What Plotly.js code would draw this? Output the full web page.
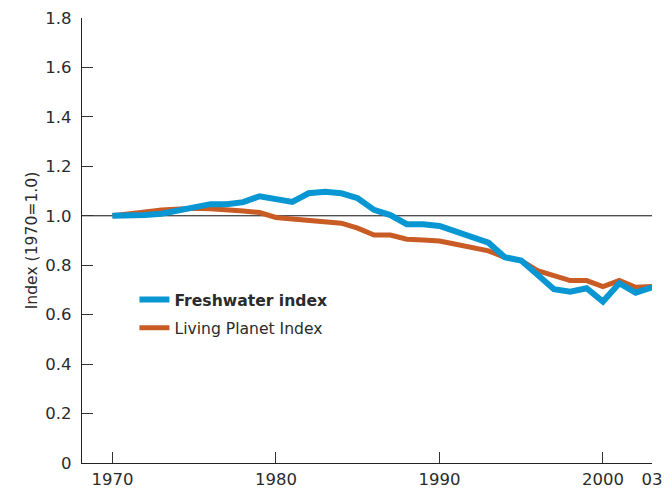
<!DOCTYPE html>
<html>
<head>
<meta charset="utf-8">
<script src="https://cdn.plot.ly/plotly-3.0.1.min.js"></script>
<style>html,body{margin:0;padding:0;background:#fff;}#chart{width:666px;height:488px;}</style>
</head>
<body>
<div id="chart"></div>
<script>
const years = [1970,1971,1972,1973,1974,1975,1976,1977,1978,1979,1980,1981,1982,1983,1984,1985,1986,1987,1988,1989,1990,1991,1992,1993,1994,1995,1996,1997,1998,1999,2000,2001,2002,2003];
const freshwater = [1.00,1.00,1.003,1.008,1.022,1.030,1.047,1.047,1.055,1.079,1.067,1.056,1.091,1.097,1.091,1.071,1.024,1.003,0.966,0.966,0.959,0.936,0.916,0.891,0.832,0.819,0.761,0.703,0.693,0.707,0.653,0.727,0.689,0.711];
const livingPlanet = [1.00,1.01,1.015,1.023,1.027,1.030,1.028,1.021,1.019,1.013,0.993,0.987,0.981,0.974,0.970,0.950,0.922,0.922,0.905,0.902,0.898,0.885,0.871,0.858,0.832,0.819,0.778,0.757,0.738,0.738,0.714,0.738,0.711,0.714];
const xTickVals = [1970,1980,1990,2000,2003];
const xTickText = ["1970","1980","1990","2000","03"];
const yTickVals = [0,0.2,0.4,0.6,0.8,1.0,1.2,1.4,1.6,1.8];
const yTickText = ["0","0.2","0.4","0.6","0.8","1.0","1.2","1.4","1.6","1.8"];

const traces = [
  {x: years, y: livingPlanet, type: 'scatter', mode: 'lines', name: 'Living Planet Index',
   legendgroup: 'lpi', legendrank: 2, line: {color: '#c95b25', width: 5}},
  {x: years, y: freshwater, type: 'scatter', mode: 'lines', name: '<b>Freshwater index</b>',
   legendgroup: 'fw', legendrank: 1, line: {color: '#0897d3', width: 6}}
];

const FONT = 'DejaVu Sans, Liberation Sans, sans-serif';
const layout = {
  width: 666, height: 488,
  margin: {l: 82, r: 14, t: 18, b: 25},
  paper_bgcolor: '#fff', plot_bgcolor: '#fff',
  font: {family: FONT, size: 16, color: '#2b2b2b'},
  showlegend: true,
  legend: {x: 0.092, y: 0.405, xanchor: 'left', yanchor: 'top', traceorder: 'grouped',
           tracegroupgap: 5,
           font: {family: FONT, size: 15.6, color: '#2b2b2b'}, bgcolor: 'rgba(0,0,0,0)'},
  xaxis: {range: [1968.14, 2003], tickvals: xTickVals, ticktext: xTickText,
          ticks: 'inside', ticklen: 11, tickwidth: 1, tickcolor: '#333',
          tickfont: {family: FONT, size: 16.5, color: '#2b2b2b'},
          showline: true, linecolor: '#222', linewidth: 1.2, showgrid: false, zeroline: false,
          fixedrange: true, ticklabelstandoff: 1},
  yaxis: {range: [0, 1.8], tickvals: yTickVals, ticktext: yTickText,
          ticks: 'inside', ticklen: 11, tickwidth: 1, tickcolor: '#333',
          tickfont: {family: FONT, size: 16.5, color: '#2b2b2b'},
          showline: true, linecolor: '#222', linewidth: 1.2, showgrid: false, zeroline: false,
          title: {text: 'Index (1970=1.0)', font: {family: FONT, size: 15.6, color: '#2b2b2b'}, standoff: 3},
          ticklabelstandoff: 6},
  shapes: [{type: 'line', xref: 'paper', x0: 0, x1: 1, yref: 'y', y0: 1, y1: 1,
            line: {color: '#111', width: 1}, layer: 'below'}]
};
Plotly.newPlot('chart', traces, layout, {displayModeBar: false, staticPlot: true});
</script>
</body>
</html>
